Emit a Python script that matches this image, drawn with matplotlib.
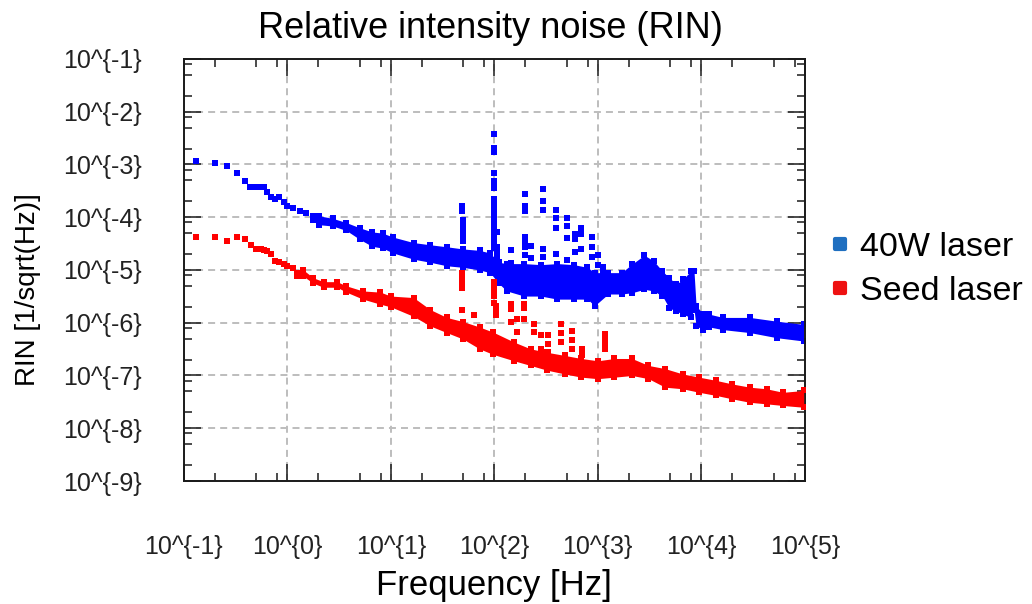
import matplotlib.pyplot as plt
from matplotlib.lines import Line2D
from matplotlib.markers import MarkerStyle
from matplotlib.ticker import LogLocator, NullFormatter

plt.rcParams['font.family'] = ['Liberation Sans', 'DejaVu Sans']

# ---- 40W laser ----
# noisy band: frequency [Hz], upper and lower edge [1/sqrt(Hz)]
blue_band_f = [1.78, 2.04, 2.75, 3.72, 5.01, 6.61, 8.32, 10.5, 16.6, 24.0,
               34.7, 50.0, 72.0, 91.0, 110, 132, 195, 282, 407, 589,
               794, 933, 1260, 1700, 2140, 2820, 3470, 4220, 4900, 5750,
               6610, 7940, 8510, 8910, 10500, 12000, 16200, 29500, 53700, 97700]
blue_band_hi = [1.07e-4, 1.06e-4, 9.5e-5, 7.9e-5, 6.3e-5, 5.25e-5, 5.0e-5, 4.2e-5, 3.3e-5, 3.0e-5,
                2.75e-5, 2.5e-5, 2.35e-5, 2.1e-5, 1.4e-5, 1.32e-5, 1.32e-5, 1.26e-5, 1.32e-5, 1.26e-5,
                1.12e-5, 8.9e-6, 8.9e-6, 8.9e-6, 1.29e-5, 1.9e-5, 1.48e-5, 9.5e-6, 7.1e-6, 5.4e-6,
                6.6e-6, 9.5e-6, 9.5e-6, 2.1e-6, 1.45e-6, 1.45e-6, 1.26e-6, 1.26e-6, 1.07e-6, 9.3e-7]
blue_band_lo = [8.9e-5, 7.2e-5, 6.8e-5, 5.6e-5, 3.8e-5, 2.8e-5, 2.6e-5, 2.1e-5, 1.6e-5, 1.4e-5,
                1.2e-5, 1.12e-5, 1.0e-5, 8.9e-6, 5.6e-6, 4.0e-6, 3.2e-6, 3.2e-6, 2.8e-6, 2.8e-6,
                2.8e-6, 2.1e-6, 3.5e-6, 3.5e-6, 3.7e-6, 4.3e-6, 4.0e-6, 3.2e-6, 1.9e-6, 1.66e-6,
                1.45e-6, 1.26e-6, 1.78e-6, 8.7e-7, 7.4e-7, 8.3e-7, 7.4e-7, 6.5e-7, 5.2e-7, 4.5e-7]
# single points at low frequency
blue_pts_f = [0.130, 0.198, 0.262, 0.327, 0.393, 0.44, 0.48, 0.52, 0.56, 0.60,
              0.64, 0.69, 0.76, 0.84, 0.92, 1.0, 1.14, 1.32, 1.53]
blue_pts_v = [1.15e-3, 1.07e-3, 9.2e-4, 6.9e-4, 4.9e-4, 3.7e-4, 3.7e-4, 3.7e-4, 3.7e-4, 3.7e-4,
              3.0e-4, 2.4e-4, 2.2e-4, 2.45e-4, 1.96e-4, 1.6e-4, 1.47e-4, 1.33e-4, 1.18e-4]
# spikes (mains harmonics etc.)
blue_spike_f = [49, 49, 50, 50, 50, 50, 50,
                99, 99, 99, 99, 99, 99, 99, 99, 99, 99, 99, 99, 99, 99, 99, 99, 99, 99,
                107, 107, 107, 107,
                145, 145,
                200, 200, 200, 200, 200, 200, 200,
                224, 224,
                295, 295, 295, 295, 295,
                398, 398, 398, 398,
                500, 500, 500, 500,
                603, 603, 603,
                692, 692, 692,
                870, 870, 870,
                1000, 1000,
                1120, 1120]
blue_spike_v = [1.66e-4, 1.33e-4, 8.7e-5, 6.9e-5, 5.5e-5, 4.4e-5, 3.5e-5,
                3.7e-3, 2.04e-3, 1.74e-3, 6.9e-4, 4.9e-4, 4.2e-4, 3.6e-4, 2.2e-4, 1.78e-4,
                1.55e-4, 1.26e-4, 1.0e-4, 7.9e-5, 6.3e-5, 5.0e-5, 4.0e-5, 3.2e-5, 2.6e-5,
                5.2e-5, 2.75e-5, 2.2e-5, 1.78e-5,
                2.35e-5, 1.33e-5,
                2.75e-4, 1.66e-4, 1.33e-4, 4.2e-5, 3.6e-5, 2.75e-5, 1.9e-5,
                2.8e-5, 1.66e-5,
                3.4e-4, 2.0e-4, 1.38e-4, 2.5e-5, 1.78e-5,
                1.38e-4, 9.8e-5, 6.3e-5, 2.0e-5,
                9.8e-5, 6.8e-5, 4.1e-5, 1.55e-5,
                4.9e-5, 3.9e-5, 2.2e-5,
                6.3e-5, 4.9e-5, 2.5e-5,
                4.2e-5, 2.75e-5, 1.78e-5,
                1.9e-5, 1.26e-5,
                1.15e-5, 8.9e-6]

# ---- Seed laser ----
red_band_f = [1.23, 1.43, 1.78, 2.24, 3.02, 3.72, 5.37, 7.94, 10.0, 16.6,
              24.0, 34.7, 50.0, 72.0, 98.0, 155, 224, 324, 479, 692,
              1000, 1450, 2140, 3090, 4470, 6610, 9550, 13800, 20000, 29500,
              42700, 61700, 97700]
red_band_hi = [8.9e-6, 1.0e-5, 7.1e-6, 6.0e-6, 6.0e-6, 5.0e-6, 4.0e-6, 3.8e-6, 3.2e-6, 3.0e-6,
               1.78e-6, 1.26e-6, 1.05e-6, 8.3e-7, 6.6e-7, 4.3e-7, 3.2e-7, 2.75e-7, 2.4e-7, 2.1e-7,
               1.9e-7, 2.1e-7, 2.1e-7, 1.55e-7, 1.35e-7, 1.07e-7, 9.3e-8, 8.1e-8, 6.9e-8, 6.0e-8,
               5.6e-8, 4.8e-8, 5.2e-8]
red_band_lo = [7.6e-6, 7.6e-6, 5.6e-6, 4.7e-6, 4.7e-6, 3.8e-6, 2.8e-6, 2.24e-6, 2.0e-6, 1.32e-6,
               8.7e-7, 6.5e-7, 4.9e-7, 3.2e-7, 2.5e-7, 1.9e-7, 1.55e-7, 1.26e-7, 1.07e-7, 9.3e-8,
               8.7e-8, 9.3e-8, 1.0e-7, 8.7e-8, 6.0e-8, 5.6e-8, 4.8e-8, 4.2e-8, 3.6e-8, 3.1e-8,
               2.9e-8, 2.7e-8, 2.5e-8]
red_pts_f = [0.130, 0.198, 0.262, 0.327, 0.393, 0.446, 0.50, 0.53, 0.56, 0.60,
             0.64, 0.69, 0.76, 0.84, 0.93, 1.0, 1.14]
red_pts_v = [4.2e-5, 4.2e-5, 3.5e-5, 4.2e-5, 3.8e-5, 2.95e-5, 2.5e-5, 2.5e-5, 2.5e-5, 2.4e-5,
             2.3e-5, 2.05e-5, 1.48e-5, 1.41e-5, 1.29e-5, 1.19e-5, 1.1e-5]
red_spike_f = [49, 49, 49, 49, 49,
               63,
               100, 100, 100, 100, 100,
               105, 105, 105,
               145, 145, 145,
               166, 166,
               195, 195, 195,
               240, 240,
               282, 282,
               330, 330, 330,
               437, 437, 437,
               560, 560, 560,
               708, 708,
               1175, 1175, 1175, 1175]
red_spike_v = [8.7e-6, 7.2e-6, 6.0e-6, 4.6e-6, 1.78e-6,
               1.41e-6,
               6.0e-6, 4.9e-6, 4.0e-6, 3.2e-6, 2.4e-6,
               2.1e-6, 1.74e-6, 1.38e-6,
               2.3e-6, 1.82e-6, 1.02e-6,
               1.2e-6, 6.6e-7,
               2.3e-6, 1.9e-6, 1.2e-6,
               9.5e-7, 6.6e-7,
               5.8e-7, 3.2e-7,
               5.8e-7, 4.0e-7, 2.75e-7,
               9.5e-7, 6.3e-7, 4.3e-7,
               7.1e-7, 4.7e-7, 3.2e-7,
               3.2e-7, 2.4e-7,
               6.2e-7, 5.0e-7, 4.0e-7, 3.2e-7]

x_ticks = [1e-1, 1e0, 1e1, 1e2, 1e3, 1e4, 1e5]
x_tick_labels = ["10^{-1}", "10^{0}", "10^{1}", "10^{2}", "10^{3}", "10^{4}", "10^{5}"]
y_ticks = [1e-9, 1e-8, 1e-7, 1e-6, 1e-5, 1e-4, 1e-3, 1e-2, 1e-1]
y_tick_labels = ["10^{-9}", "10^{-8}", "10^{-7}", "10^{-6}", "10^{-5}",
                 "10^{-4}", "10^{-3}", "10^{-2}", "10^{-1}"]

BLUE = '#0000ff'
RED = '#ff0000'
MS = 5.0

fig = plt.figure(figsize=(10.32, 6.04), dpi=100)
ax = fig.add_axes([0.1781, 0.2036, 0.6017, 0.6989])
ax.set_xscale('log')
ax.set_yscale('log')

# 40W laser
ax.fill_between(blue_band_f, blue_band_lo, blue_band_hi, color=BLUE, lw=0, zorder=2)
for ys in (blue_band_hi, blue_band_lo):
    ax.plot(blue_band_f, ys, ls='none', marker='s', ms=MS, mew=0, color=BLUE, zorder=2)
ax.plot(blue_pts_f, blue_pts_v, ls='none', marker='s', ms=MS, mew=0, color=BLUE, zorder=2)
ax.plot(blue_spike_f, blue_spike_v, ls='none', marker='s', ms=MS, mew=0, color=BLUE, zorder=2)

# seed laser
ax.fill_between(red_band_f, red_band_lo, red_band_hi, color=RED, lw=0, zorder=3)
for ys in (red_band_hi, red_band_lo):
    ax.plot(red_band_f, ys, ls='none', marker='s', ms=MS, mew=0, color=RED, zorder=3)
ax.plot(red_pts_f, red_pts_v, ls='none', marker='s', ms=MS, mew=0, color=RED, zorder=3)
ax.plot(red_spike_f, red_spike_v, ls='none', marker='s', ms=MS, mew=0, color=RED, zorder=3)

ax.set_xlim(1e-1, 1e5)
ax.set_ylim(1e-9, 1e-1)

ax.set_xticks(x_ticks, labels=x_tick_labels)
ax.set_yticks(y_ticks, labels=y_tick_labels)
for axis in (ax.xaxis, ax.yaxis):
    axis.set_minor_locator(LogLocator(base=10, subs=(2, 5, 8), numticks=50))
    axis.set_minor_formatter(NullFormatter())

ax.grid(True, which='major', color='#bdbdbd', lw=1.4, ls=(0, (3.6, 2.6)))
ax.set_axisbelow(True)

ax.tick_params(which='both', direction='in', top=True, right=True,
               width=1.1, color='#1a1a1a')
ax.tick_params(which='major', length=12)
ax.tick_params(which='minor', length=6)
ax.tick_params(axis='x', which='major', pad=39, labelsize=18, labelcolor='#222222')
ax.tick_params(axis='y', which='major', pad=30, labelsize=18, labelcolor='#222222')
for sp in ax.spines.values():
    sp.set_linewidth(1.4)
    sp.set_color('#1a1a1a')

ax.set_xlabel('Frequency [Hz]', fontsize=25, va='baseline')
ax.xaxis.set_label_coords(0.5, -0.269)
ax.set_ylabel('RIN [1/sqrt(Hz)]', fontsize=20, va='baseline')
ax.yaxis.set_label_coords(-0.2396, 0.4525)

fig.text(490 / 1032, 1 - 38 / 604, 'Relative intensity noise (RIN)',
         ha='center', va='baseline', fontsize=26)

rounded = MarkerStyle('s', joinstyle='round')
handles = [
    Line2D([], [], ls='none', marker=rounded, ms=7, mew=3,
           color='#1f6fc0', mec='#1f6fc0'),
    Line2D([], [], ls='none', marker=rounded, ms=7, mew=3,
           color='#ee1111', mec='#ee1111'),
]
fig.legend(handles, ['40W laser', 'Seed laser'], loc='center left',
           bbox_to_anchor=(0.804, 0.5538), frameon=False, fontsize=24.5,
           handlelength=0.6, handletextpad=0.28, borderpad=0,
           borderaxespad=0, labelspacing=0.4)

fig.savefig('out.png', dpi=100)
